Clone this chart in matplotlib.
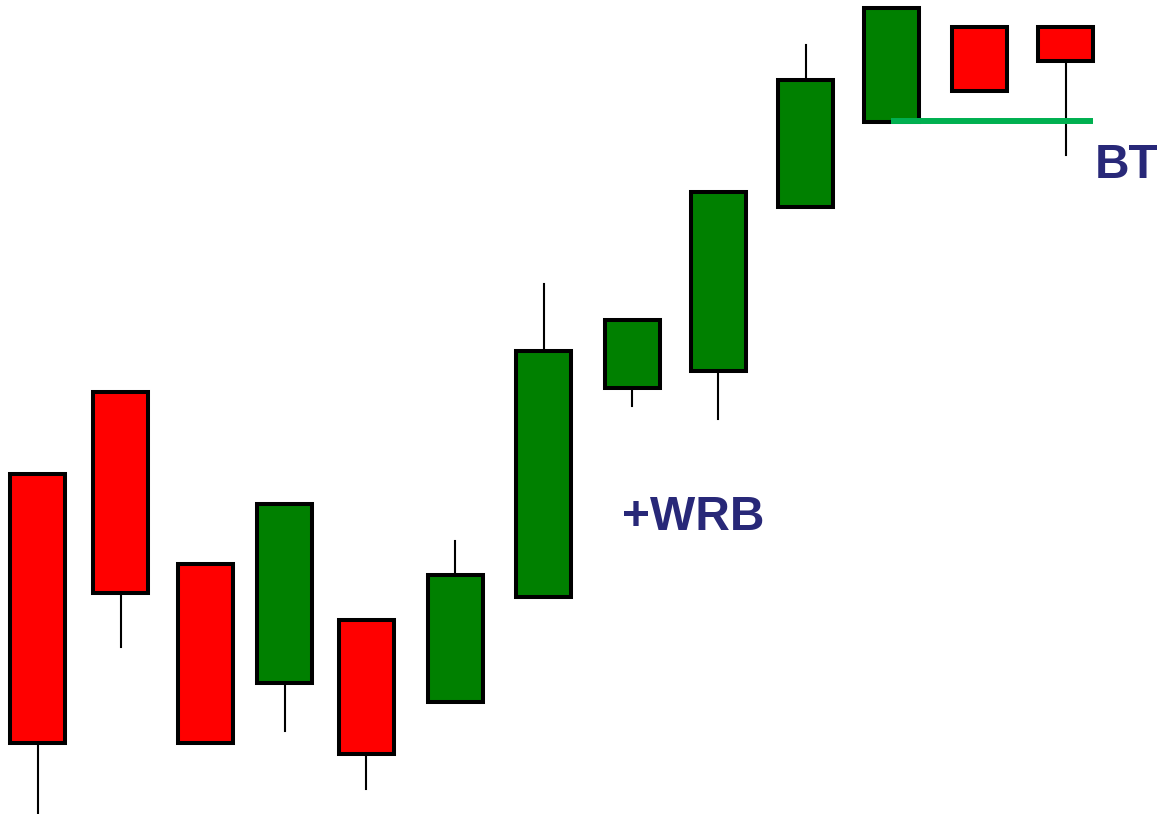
import matplotlib.pyplot as plt
from matplotlib.patches import Rectangle

# candle data (time position, open, close, high, low)
x_pos = [37.5, 120.5, 205.5, 284.5, 366, 455, 543.5, 632, 718, 805.5, 891.5, 979, 1065.5]
opens = [34.0, 42.2, 25.0, 13.1, 19.4, 11.2, 21.7, 42.6, 44.3, 60.7, 69.2, 78.7, 78.7]
closes = [7.1, 22.1, 7.1, 31.0, 6.0, 23.9, 46.3, 49.4, 62.2, 73.4, 80.6, 72.3, 75.3]
highs = [34.0, 42.2, 25.0, 31.0, 19.4, 27.3, 53.0, 49.4, 62.2, 76.9, 80.6, 78.7, 78.7]
lows = [0.1, 16.7, 7.1, 8.3, 2.5, 11.2, 21.7, 40.8, 39.5, 60.7, 69.2, 72.3, 65.9]

bt_level = 69.3
bt_start, bt_end = 891, 1093

UP = '#008000'
DOWN = '#FF0000'
TEXT = '#282878'

fig = plt.figure(figsize=(11.57, 8.14), dpi=100)
ax = fig.add_axes([0, 0, 1, 1])

width = 55
for x, o, c, h, l in zip(x_pos, opens, closes, highs, lows):
    color = UP if c >= o else DOWN
    lo, hi = min(o, c), max(o, c)
    ax.plot([x, x], [l, h], color='black', lw=1.5, zorder=1)
    ax.add_patch(Rectangle((x - width / 2, lo), width, hi - lo,
                           facecolor=color, edgecolor='black', lw=2.9,
                           joinstyle='miter', zorder=2))

ax.plot([bt_start, bt_end], [bt_level, bt_level], color='#00B050', lw=4.3,
        solid_capstyle='butt', zorder=3)

ax.text(622, 28.4, '+WRB', color=TEXT, fontsize=34.5, fontweight='bold',
        family='Liberation Sans', ha='left', va='baseline')
ax.text(1095, 63.6, 'BT', color=TEXT, fontsize=34.5, fontweight='bold',
        family='Liberation Sans', ha='left', va='baseline')

ax.set_xlim(0, 1157)
ax.set_ylim(0, 81.4)
ax.axis('off')

plt.savefig('out.png', dpi=100)
